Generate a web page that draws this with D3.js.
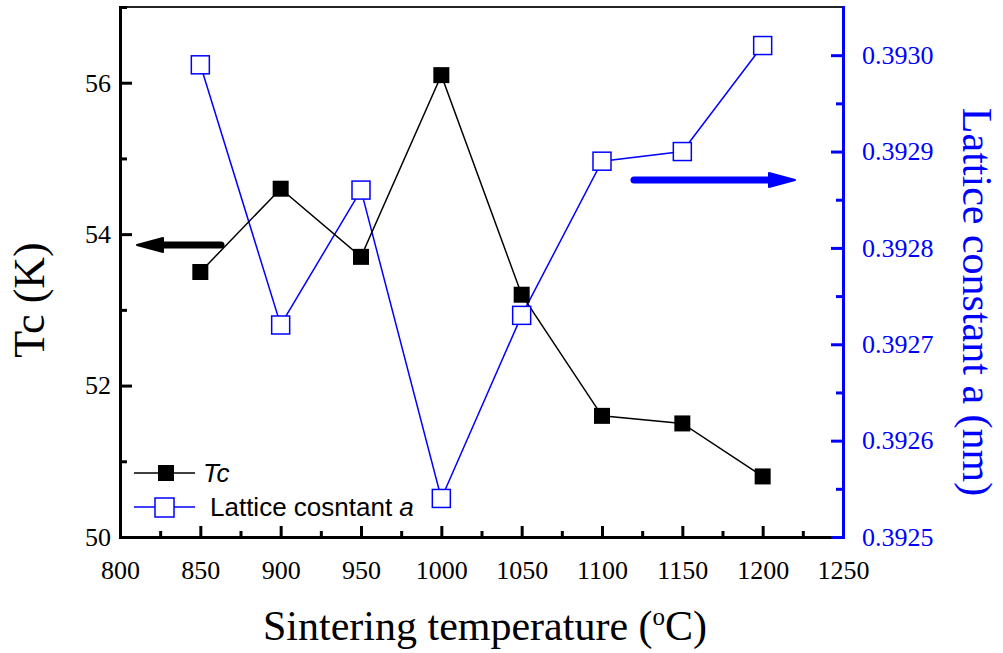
<!DOCTYPE html>
<html>
<head>
<meta charset="utf-8">
<script src="https://cdn.jsdelivr.net/npm/d3@7"></script>
<style>
  body { margin: 0; background: #fff; }
  svg { display: block; }
</style>
</head>
<body>
<svg id="chart" width="1003" height="653"></svg>
<script>
// data
var temps = [850, 900, 950, 1000, 1050, 1100, 1150, 1200];
var tcValues = [53.5, 54.6, 53.7, 56.1, 53.2, 51.6, 51.5, 50.8];
var latticeValues = [0.39299, 0.39272, 0.39286, 0.39254, 0.39273, 0.39289, 0.3929, 0.39301];
var xTicks = [800, 850, 900, 950, 1000, 1050, 1100, 1150, 1200, 1250];
var leftTicks = [50, 52, 54, 56];
var rightTicks = [0.3925, 0.3926, 0.3927, 0.3928, 0.3929, 0.393];

var blue = "#0000ff";
var svg = d3.select("#chart");
var mLeft = 120, mRight = 843, mTop = 7, mBottom = 537;

var x = d3.scaleLinear().domain([800, 1250]).range([mLeft, mRight]);
var yL = d3.scaleLinear().domain([50, 57]).range([mBottom, mTop]);
var yR = d3.scaleLinear().domain([0.3925, 0.39305]).range([mBottom, mTop]);

var serif = "'Liberation Serif', 'Times New Roman', serif";
var sans = "Arial, 'Liberation Sans', sans-serif";

// lattice series (blue, open squares) - drawn first
svg.append("path")
  .datum(temps)
  .attr("fill", "none")
  .attr("stroke", blue)
  .attr("stroke-width", 1.5)
  .attr("d", d3.line().x(d => x(d)).y((d, i) => yR(latticeValues[i])));

// Tc series (black, filled squares)
svg.append("path")
  .datum(temps)
  .attr("fill", "none")
  .attr("stroke", "#000")
  .attr("stroke-width", 1.5)
  .attr("d", d3.line().x(d => x(d)).y((d, i) => yL(tcValues[i])));

svg.append("g").selectAll("rect")
  .data(temps)
  .join("rect")
  .attr("x", d => x(d) - 9)
  .attr("y", (d, i) => yR(latticeValues[i]) - 9)
  .attr("width", 18)
  .attr("height", 18)
  .attr("fill", "#fff")
  .attr("stroke", blue)
  .attr("stroke-width", 1.5);

svg.append("g").selectAll("rect")
  .data(temps)
  .join("rect")
  .attr("x", d => x(d) - 8)
  .attr("y", (d, i) => yL(tcValues[i]) - 8)
  .attr("width", 16)
  .attr("height", 16)
  .attr("fill", "#000");

// frame: top line
svg.append("line").attr("x1", mLeft).attr("x2", mRight).attr("y1", mTop).attr("y2", mTop)
  .attr("stroke", "#222").attr("stroke-width", 2);

// axes, inward ticks
svg.append("g")
  .attr("class", "ax")
  .attr("transform", "translate(0," + mBottom + ")")
  .call(d3.axisBottom(x).tickValues(xTicks).tickSize(-11).tickSizeOuter(0).tickPadding(24).tickFormat(d3.format("d")));
svg.append("g")
  .attr("class", "ax")
  .attr("transform", "translate(0," + mBottom + ")")
  .call(d3.axisBottom(x).tickValues(d3.range(825, 1250, 50)).tickSize(-6).tickFormat(""))
  .call(g => g.select(".domain").remove());

svg.append("g")
  .attr("class", "ax")
  .attr("transform", "translate(" + mLeft + ",0)")
  .call(d3.axisLeft(yL).tickValues(leftTicks).tickSize(-12).tickSizeOuter(0).tickPadding(9).tickFormat(d3.format("d")));
svg.append("g")
  .attr("class", "ax")
  .attr("transform", "translate(" + mLeft + ",0)")
  .call(d3.axisLeft(yL).tickValues([51, 53, 55, 57]).tickSize(-7).tickFormat(""))
  .call(g => g.select(".domain").remove());

svg.append("g")
  .attr("class", "ax right")
  .attr("transform", "translate(" + mRight + ",0)")
  .call(d3.axisRight(yR).tickValues(rightTicks).tickSize(-12).tickSizeOuter(0).tickPadding(19).tickFormat(d3.format(".4f")));
svg.append("g")
  .attr("class", "ax right")
  .attr("transform", "translate(" + mRight + ",0)")
  .call(d3.axisRight(yR).tickValues([0.39255, 0.39265, 0.39275, 0.39285, 0.39295]).tickSize(-7).tickFormat(""))
  .call(g => g.select(".domain").remove());

svg.selectAll(".ax .domain").attr("stroke-width", 3).attr("stroke-linecap", "square");
svg.selectAll(".ax .tick line").attr("stroke-width", 3);
svg.selectAll(".ax .tick text").attr("font-family", serif).attr("font-size", 26).attr("fill", "#000");
svg.selectAll(".right .domain, .right .tick line").attr("stroke", blue);
svg.selectAll(".right .tick text").attr("fill", blue);

// axis titles
svg.append("text")
  .attr("transform", "translate(44,300) rotate(-90)")
  .attr("text-anchor", "middle")
  .attr("font-family", serif)
  .attr("font-size", 44)
  .text("Tc (K)");

var xt = svg.append("text")
  .attr("x", 485)
  .attr("y", 640)
  .attr("text-anchor", "middle")
  .attr("font-family", serif)
  .attr("font-size", 42);
xt.append("tspan").text("Sintering temperature (");
xt.append("tspan").attr("font-size", 25).attr("dy", -15).text("o");
xt.append("tspan").attr("dy", 15).text("C)");

svg.append("text")
  .attr("transform", "translate(963,302) rotate(90)")
  .attr("text-anchor", "middle")
  .attr("font-family", serif)
  .attr("font-size", 42)
  .attr("fill", blue)
  .text("Lattice constant a (nm)");

// direction arrows
function arrow(x1, x2, y, color) {
  var dir = x2 > x1 ? 1 : -1;
  svg.append("line")
    .attr("x1", x1).attr("x2", x2 - dir * 20).attr("y1", y).attr("y2", y)
    .attr("stroke", color).attr("stroke-width", 7).attr("stroke-linecap", "round");
  svg.append("path")
    .attr("d", "M" + x2 + "," + y + "L" + (x2 - dir * 26) + "," + (y - 7) + "L" + (x2 - dir * 26) + "," + (y + 7) + "Z")
    .attr("fill", color)
    .attr("stroke", color)
    .attr("stroke-width", 2)
    .attr("stroke-linejoin", "round");
}
arrow(221, 137, 245, "#000");
arrow(634, 795, 180, blue);

// legend
var lg = svg.append("g");
lg.append("line").attr("x1", 134).attr("x2", 195).attr("y1", 473).attr("y2", 473)
  .attr("stroke", "#000").attr("stroke-width", 1.5);
lg.append("rect").attr("x", 158).attr("y", 465).attr("width", 16).attr("height", 16).attr("fill", "#000");
lg.append("text").attr("x", 203).attr("y", 482)
  .attr("font-family", sans).attr("font-size", 26).attr("font-style", "italic").text("Tc");

lg.append("line").attr("x1", 134).attr("x2", 195).attr("y1", 507).attr("y2", 507)
  .attr("stroke", blue).attr("stroke-width", 1.5);
lg.append("rect").attr("x", 155).attr("y", 498).attr("width", 19).attr("height", 19)
  .attr("fill", "#fff").attr("stroke", blue).attr("stroke-width", 1.5);
var lt = lg.append("text").attr("x", 210).attr("y", 516)
  .attr("font-family", sans).attr("font-size", 26);
lt.append("tspan").text("Lattice cosntant ");
lt.append("tspan").attr("font-style", "italic").text("a");
</script>
</body>
</html>
